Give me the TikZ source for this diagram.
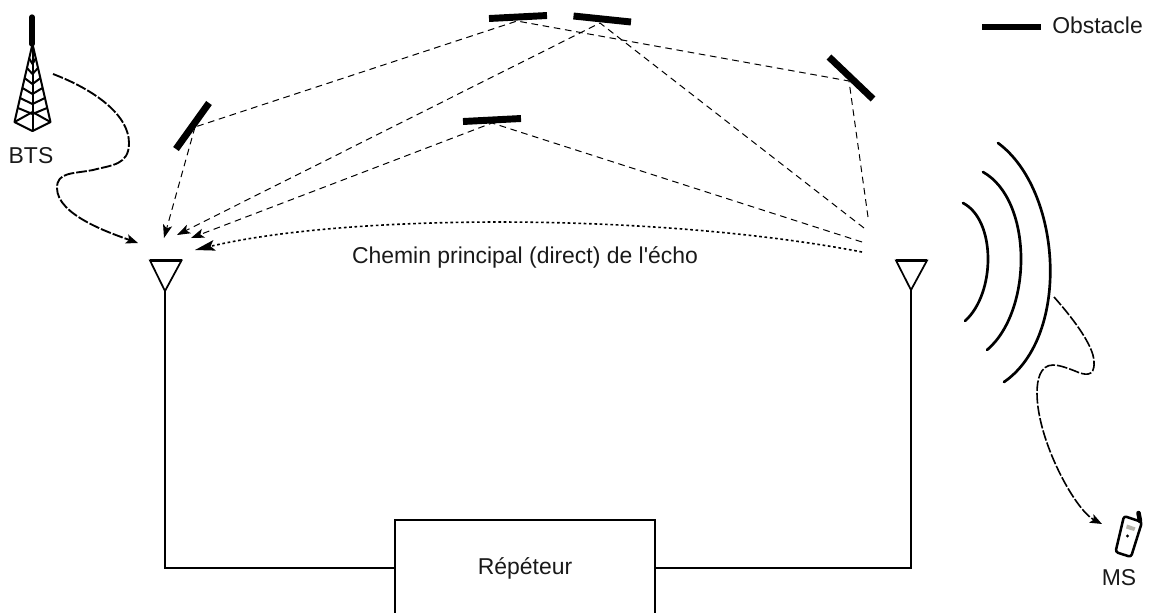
\documentclass[tikz,border=0pt]{standalone}
\usepackage{fontspec}
\setmainfont{Liberation Sans}[Ligatures=TeXOff]
\usetikzlibrary{arrows.meta}
\tikzset{
  lbl/.style={font=\fontsize{17.2pt}{19pt}\selectfont,inner sep=0pt,text=black!90},
  obst/.style={line width=5.2pt},
  echo/.style={line width=0.75pt,dash pattern=on 5pt off 3.5pt,-{Stealth[length=10pt,width=7pt,inset=2.5pt]}},
  echoend/.style={line width=0.75pt,dash pattern=on 5pt off 3.5pt},
  direct/.style={line width=1.2pt,dash pattern=on 2pt off 2pt,-{Stealth[length=15pt,width=8pt,inset=3pt]}},
  wave/.style={line width=2pt,line cap=round},
  radio/.style={line width=1.4pt,dash pattern=on 8pt off 1.5pt,-{Stealth[length=9pt,width=7pt,inset=2pt]}},
  ant/.style={line width=1.3pt,line join=miter},
  wire/.style={line width=1.3pt},
  repbox/.style={draw,line width=1.5pt,minimum width=195pt,minimum height=72pt,inner sep=0pt,font=\fontsize{17.2pt}{19pt}\selectfont,text=black!90},
  tw/.style={line width=1.5pt,line join=round}
}
\begin{document}
\begin{tikzpicture}[x=0.75pt,y=-0.75pt]
\useasboundingbox (0,0) rectangle (1150,612);
% reflection points
\coordinate (hL) at (195,127);
\coordinate (hT1) at (517,21);
\coordinate (hT2) at (600,23);
\coordinate (hR) at (849,81);
\coordinate (hM) at (492,123);
% targets near the antennas
\coordinate (tA) at (164,238);
\coordinate (tB) at (177,235);
\coordinate (tC) at (191,238);
\coordinate (tD) at (195,250);
\coordinate (sA) at (868,217);
\coordinate (sB) at (864,228);
\coordinate (sC) at (862,242);
\coordinate (sD) at (862,252);
% obstacles
\draw[obst] (176,149) -- (209,103);
\draw[obst] (489,18.5) -- (547,15.5);
\draw[obst] (573.5,16) -- (631,22);
\draw[obst] (829,57) -- (873,99);
\draw[obst] (463,121.5) -- (521,118.5);
\draw[obst] (982,27) -- (1041,27);
\node[lbl,anchor=base west] (legend) at (1052,33.5) {Obstacle};
% echoes
\draw[echoend] (sA) -- (hR) -- (hT1) -- (hL);
\draw[echo] (hL) -- (tA);
\draw[echo] (sB) -- (hT2) -- (tB);
\draw[echo] (sC) -- (hM) -- (tC);
\draw[direct] (sD) .. controls (660,213) and (350,213) .. (tD);
\node[lbl,anchor=base] (chemin) at (525,263) {Chemin principal (direct) de l'écho};
% antennas
\coordinate (aL) at (165,291);
\coordinate (aR) at (911,290);
\draw[ant] (150,260.5) -- (181.5,260.5) -- (aL) -- cycle;
\draw[ant] (896,260.5) -- (927,260.5) -- (aR) -- cycle;
\draw[ant,line width=1.8pt] (150,260.5) -- (181.5,260.5);
\draw[ant,line width=1.8pt] (896,260.5) -- (927,260.5);
% repeater
\begin{scope}
\clip (0,0) rectangle (1150,612);
\node[repbox] (rep) at (525,568) {Répéteur};
\end{scope}
\draw[wire] (aL) |- (rep.west);
\draw[wire] (aR) |- (rep.east);
% waves
\draw[wave] (963,203) .. controls (996,220) and (996,293) .. (965,321);
\draw[wave] (983,172) .. controls (1033,200) and (1033,311) .. (987,350);
\draw[wave] (998,143) .. controls (1062,190) and (1071,336) .. (1004,382);
% radio links
\coordinate (bS) at (53,74);
\coordinate (bE) at (138,243);
\coordinate (mS) at (1054,297);
\coordinate (mE) at (1102,524);
\draw[radio] (bS) .. controls (95,90) and (129,115) .. (129,143)
  .. controls (129,165) and (112,165) .. (93,170)
  .. controls (72,174) and (57,172) .. (57,188)
  .. controls (57,215) and (110,233) .. (bE);
\draw[radio,line width=1.2pt] (mS) .. controls (1070,315) and (1094,345) .. (1094,362)
  .. controls (1095,378) and (1084,375) .. (1075,371)
  .. controls (1065,367) and (1058,365) .. (1053,365)
  .. controls (1040,365) and (1037,380) .. (1037,393)
  .. controls (1037,440) and (1075,510) .. (mE);
% BTS tower
\draw[line width=4pt,line cap=round] (32,17) -- (32,44);
\draw[tw] (32.5,44) -- (14.5,122) -- (32.5,131) -- (50.5,122) -- cycle;
\draw[tw] (32.5,44) -- (32.5,131);
\foreach \y/\dx in {58/3.5,68/5.5,78/8,88/10,98/12.5,108/14.5}{
  \draw[tw] (32.5-\dx,\y) -- (32.5,\y+6) -- (32.5+\dx,\y);
}
\draw[tw] (14.5,122) -- (32.5,112) -- (50.5,122);
\node[lbl,anchor=base] (bts) at (31,163) {BTS};
% MS phone
\draw[line width=1.9pt,fill=white,rounded corners=2pt,line join=round] (1124,516) -- (1142,522) -- (1131,557) -- (1115.5,552) -- cycle;
\draw[line width=3.4pt,line cap=round] (1138.5,513) -- (1140,521);
\fill[black!25!yellow!10!gray!70] (1127,524.5) -- (1135.5,527.5) -- (1134,531) -- (1126,528.5) -- cycle;
\fill (1127.5,536) circle (1.6);
\node[lbl,anchor=base] (ms) at (1119,585) {MS};
\end{tikzpicture}
\end{document}
